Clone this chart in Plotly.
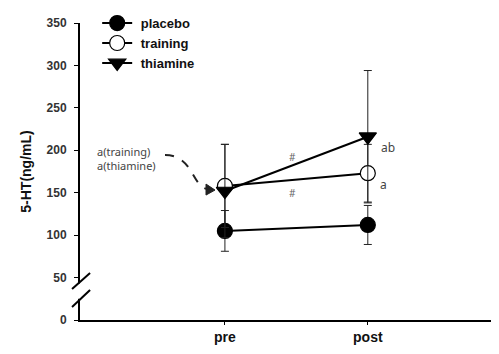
import plotly.graph_objects as go

# ---- data ----
timepoints = ["pre", "post"]
tick_x = [1, 2]
placebo = [105, 112]
placebo_err = [24, 23]
training = [158, 173]
training_err = [49, 34]
thiamine = [152, 216]
thiamine_err = [55, 78]
y_ticks = [0, 50, 100, 150, 200, 250, 300, 350]

FONT = "Liberation Sans"

fig = go.Figure()

def add_series(name, vals, errs, symbol, fill):
    fig.add_trace(go.Scatter(
        x=tick_x, y=vals, name=" " + name, mode="lines+markers",
        line=dict(color="black", width=2),
        marker=dict(symbol=symbol, size=15, color=fill,
                    line=dict(color="black", width=1.2)),
        error_y=dict(type="data", array=errs, visible=True,
                     color="#222", thickness=1, width=4),
        cliponaxis=False,
    ))

add_series("placebo", placebo, placebo_err, "circle", "black")
add_series("training", training, training_err, "circle", "white")
add_series("thiamine", thiamine, thiamine_err, "triangle-down", "black")

# conversion helpers (window pixels -> data) for decorations
def px_x(px):
    return (px - 80) / 142.9 - 0.014

def px_y(py):
    return (320 - py) / 0.849

# dashed curved arrow
p0 = (px_x(165), px_y(155))
c1 = (px_x(193), px_y(155))
c2 = (px_x(192), px_y(186))
p1 = (px_x(207), px_y(189))
fig.add_shape(type="path", xref="x", yref="y",
              path=f"M {p0[0]} {p0[1]} C {c1[0]} {c1[1]}, {c2[0]} {c2[1]}, {p1[0]} {p1[1]}",
              line=dict(color="#222", width=2, dash="dash"))
tip = (px_x(215), px_y(190))
b1 = (px_x(206), px_y(184))
b2 = (px_x(206), px_y(195))
fig.add_shape(type="path", xref="x", yref="y",
              path=f"M {tip[0]} {tip[1]} L {b1[0]} {b1[1]} L {b2[0]} {b2[1]} Z",
              fillcolor="#222", line=dict(color="#222", width=1))

# axis break
fig.add_shape(type="rect", xref="paper", yref="y", x0=-0.007, x1=0.007, y0=25, y1=43,
              fillcolor="white", line=dict(width=0), layer="above")
fig.add_shape(type="line", xref="paper", yref="y", x0=-0.019, y0=36.5, x1=0.024, y1=55.4,
              line=dict(color="black", width=2))
fig.add_shape(type="line", xref="paper", yref="y", x0=-0.019, y0=15.3, x1=0.024, y1=35.3,
              line=dict(color="black", width=2))

ann_font = dict(family="Noto Sans", size=11, color="#444")
fig.add_annotation(x=px_x(95), y=px_y(158), text="a(training)<br>a(thiamine)", align="left",
                   showarrow=False, font=ann_font, xanchor="left", yanchor="middle")
fig.add_annotation(x=px_x(292), y=px_y(157), text="#", showarrow=False, font=dict(family="Noto Sans", size=10, color="#666"))
fig.add_annotation(x=px_x(292), y=px_y(193), text="#", showarrow=False, font=dict(family="Noto Sans", size=10, color="#666"))
fig.add_annotation(x=px_x(379), y=px_y(147), text="ab", showarrow=False, font=dict(family="Noto Sans", size=12, color="#444"), xanchor="left")
fig.add_annotation(x=px_x(378), y=px_y(184), text="a", showarrow=False, font=dict(family="Noto Sans", size=12, color="#444"), xanchor="left")

fig.update_layout(
    width=491, height=346,
    margin=dict(l=72, r=0, t=15, b=34, autoexpand=False),
    plot_bgcolor="white", paper_bgcolor="white",
    showlegend=True,
    legend=dict(x=0.041, y=1.05, xanchor="left", yanchor="top",
                font=dict(family=FONT, size=13, color="#111", weight="bold"),
                bgcolor="rgba(0,0,0,0)", itemwidth=30, tracegroupgap=0),
    xaxis=dict(range=[-0.014, 2.918], tickvals=tick_x, ticktext=timepoints,
               showgrid=False, zeroline=False, showline=True, linecolor="black", linewidth=2,
               ticks="outside", ticklen=3, tickcolor="black",
               tickfont=dict(family=FONT, size=14, color="#111", weight="bold")),
    yaxis=dict(range=[0, 350], tickvals=y_ticks,
               showgrid=False, zeroline=False, showline=True, linecolor="black", linewidth=2,
               ticks="outside", ticklen=4, tickcolor="black", ticklabelstandoff=5,
               tickfont=dict(family=FONT, size=12, color="#333", weight="bold"),
               title=dict(text="5-HT(ng/mL)", standoff=12,
                          font=dict(family=FONT, size=14, color="#111", weight="bold"))),
)

fig.write_html("out.html")
